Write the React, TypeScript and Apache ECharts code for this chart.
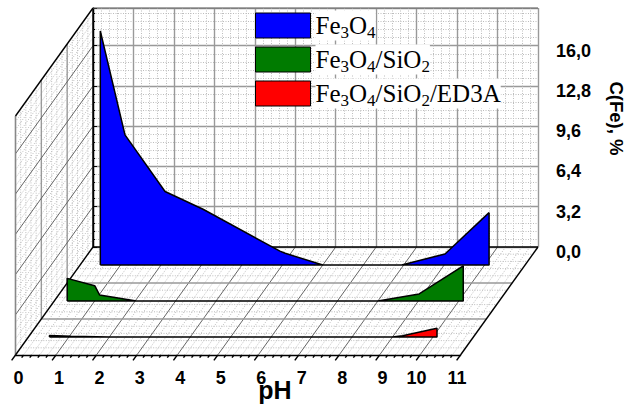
import React, { useEffect, useRef } from "react";
import * as echarts from "echarts";

const phTicks = [0, 1, 2, 3, 4, 5, 6, 7, 8, 9, 10, 11];
const concTickLabels = ["0,0", "3,2", "6,4", "9,6", "12,8", "16,0"];
const concTicks = [0, 3.2, 6.4, 9.6, 12.8, 16];
const concTop = 19;
const depthTicks = [0, 1 / 3, 2 / 3, 1];

const fe3o4: [number, number][] = [[0.5, 18.6], [1.11, 10.35], [2.1, 5.84], [3.04, 4.43], [4.94, 1.1], [5.07, 0.93], [6.0, 0], [7.95, 0], [9.02, 0.88], [10.11, 4.16]];
const fe3o4Sio2: [number, number][] = [[0.32, 1.8], [1.0, 1.22], [1.12, 0.48], [2.03, 0], [8.0, 0], [9.02, 0.56], [10.11, 2.8]];
const fe3o4Sio2Ed3a: [number, number][] = [[0.52, 0.12], [1.05, 0.06], [2.0, 0], [9.0, 0], [9.25, 0.1], [10.1, 0.7]];

const names = ["Fe3O4", "Fe3O4/SiO2", "Fe3O4/SiO2/ED3A"];
const colors = ["#0000ff", "#007b00", "#ff0000"];
const depths = [1 / 6, 1 / 2, 5 / 6];

const LEFT = 93, TOP = 8, W = 445, H = 239, DX = -77.5, DY = 108;

const STYLES = [
  { stroke: "#999999", lineWidth: 1.4 },
  { stroke: "#bdbdbd", lineWidth: 1, lineDash: [1, 1.5] },
  { stroke: "#000000", lineWidth: 1.4 },
  { stroke: "#666666", lineWidth: 1 },
  { stroke: "#888888", lineWidth: 1.6 },
];

function wallRows() {
  const rows: number[][] = [];
  for (let i = 0; i < 55; i++) {
    const x = i / 5;
    if (i % 5) {
      rows.push([x, 0, 0, x, 0, 1, 1]);
      rows.push([x, 0, 1, x, 0, 1.025, 2]);
    }
  }
  for (let i = 1; i < 15; i++) {
    if (i % 5) {
      rows.push([0, 0, i / 15, 11, 0, i / 15, 1]);
      rows.push([0, 0, i / 15, 0, concTop, i / 15, 1]);
    }
  }
  for (let i = 1; i < 30; i++) {
    if (i % 5) rows.push([0, i * 0.64, 0, 0, i * 0.64, 1, 1]);
  }
  phTicks.forEach((x) => {
    if (x > 0 && x < 11) rows.push([x, 0, 0, x, 0, 1, 3]);
    rows.push([x, 0, 1, x, 0, 1.05, 2]);
  });
  depthTicks.forEach((d) => {
    if (d > 0 && d < 1) {
      rows.push([0, 0, d, 11, 0, d, 0]);
      rows.push([0, 0, d, 0, concTop, d, 0]);
    }
  });
  concTicks.forEach((v) => {
    if (v > 0) rows.push([0, v, 0, 0, v, 1, 3]);
  });
  rows.push([0, 0, 1, 0, concTop, 1, 4]);
  rows.push([0, concTop, 0, 0, concTop, 1, 2]);
  rows.push([0, 0, 0, 0, concTop, 0, 2]);
  rows.push([0, 0, 0, 11, 0, 0, 2]);
  rows.push([0, 0, 0, 0, 0, 1, 2]);
  rows.push([11, 0, 0, 11, 0, 1, 2]);
  rows.push([0, concTop, 0, 11, concTop, 0, 3]);
  return rows;
}

const closed = (pts: [number, number][]) => [
  [pts[0][0], 0],
  ...pts,
  [pts[pts.length - 1][0], 0],
  [pts[0][0], 0],
];

const legendName = (n: string) =>
  n.replace(/(\d)(?!A)/g, "{s|$1}").replace(/(^|\})([^{]+)/g, "$1{n|$2}");

export default function App() {
  const ref = useRef<HTMLDivElement>(null);
  useEffect(() => {
    const chart = echarts.init(ref.current!, undefined, { renderer: "svg" });
    const hiddenX = (i: number) => ({ type: "value", gridIndex: i, min: 0, max: 11, show: false });
    const hiddenY = (i: number) => ({ type: "value", gridIndex: i, min: 0, max: concTop, show: false });
    const grids = [0, ...depths, 1].map((d) => ({
      left: LEFT + DX * d,
      top: TOP + DY * d,
      width: W,
      height: H,
      outerBoundsMode: "none",
    }));
    const data = [fe3o4, fe3o4Sio2, fe3o4Sio2Ed3a];
    chart.setOption({
      animation: false,
      backgroundColor: "#fff",
      textStyle: { fontFamily: "Liberation Sans" },
      grid: grids,
      legend: {
        left: 255,
        top: 10,
        padding: 0,
        orient: "vertical",
        itemWidth: 55,
        itemHeight: 25,
        itemGap: 3,
        selectedMode: false,
        data: names.map((n, i) => ({
          name: n,
          icon: "rect",
          itemStyle: { color: colors[i], borderColor: "#000", borderWidth: 1 },
        })),
        formatter: legendName,
        textStyle: {
          backgroundColor: "#fff",
          rich: {
            n: { fontFamily: "Liberation Serif", fontSize: 25, color: "#000", lineHeight: 30 },
            s: { fontFamily: "Liberation Serif", fontSize: 17, color: "#000", lineHeight: 16, padding: [14, 0, 0, 0] },
          },
        },
      },
      xAxis: [
        {
          type: "value", gridIndex: 0, min: 0, max: 11, interval: 1,
          axisLine: { show: false }, axisTick: { show: false }, axisLabel: { show: false },
          splitLine: { show: true, lineStyle: { color: "#999999", width: 1.4 } },
          minorTick: { show: false, splitNumber: 5 },
          minorSplitLine: { show: true, lineStyle: { color: "#bdbdbd", type: [1, 1.5] } },
        },
        hiddenX(1), hiddenX(2), hiddenX(3),
        {
          type: "value", gridIndex: 4, min: 0, max: 11, interval: 1,
          name: "pH", nameLocation: "middle", nameGap: 22, nameMoveOverlap: false,
          nameTextStyle: { fontSize: 25, fontWeight: "bold", color: "#000", padding: [0, 0, 0, 74] },
          axisLine: { show: true, lineStyle: { color: "#000", width: 1.4 } },
          axisTick: { show: false },
          splitLine: { show: false },
          axisLabel: {
            margin: 14, color: "#000",
            formatter: (v: number) => (v >= 10 ? `{b|${v}}` : `{a|${v}}`),
            rich: {
              a: { fontSize: 18, fontWeight: "bold", color: "#000", padding: [0, 0, 0, 6] },
              b: { fontSize: 18, fontWeight: "bold", color: "#000", padding: [0, 7, 0, 0] },
            },
          },
        },
      ],
      yAxis: [
        {
          type: "value", gridIndex: 0, min: 0, max: concTop, interval: 3.2, position: "right",
          name: "C(Fe), %", nameLocation: "middle", nameGap: 69, nameRotate: -90, nameMoveOverlap: false,
          nameTextStyle: { fontSize: 18.5, fontWeight: "bold", color: "#000", padding: [0, 18, 0, 0] },
          axisLine: { show: true, lineStyle: { color: "#000", width: 1.4 } },
          axisTick: { show: true, length: 4, lineStyle: { color: "#000" } },
          minorTick: { show: true, splitNumber: 5, length: 2, lineStyle: { color: "#000" } },
          splitLine: { show: true, lineStyle: { color: "#999999", width: 1.4 } },
          minorSplitLine: { show: true, lineStyle: { color: "#bdbdbd", type: [1, 1.5] } },
          axisLabel: {
            margin: 18, color: "#000",
            rich: { v: { fontSize: 18, fontWeight: "bold", color: "#000", padding: [10, 0, 0, 0] } },
            formatter: (v: number) => {
              const i = concTicks.findIndex((t) => Math.abs(t - v) < 1e-6);
              return i >= 0 ? `{v|${concTickLabels[i]}}` : "";
            },
          },
        },
        hiddenY(1), hiddenY(2), hiddenY(3), hiddenY(4),
      ],
      series: [
        {
          type: "custom",
          xAxisIndex: 0,
          yAxisIndex: 0,
          z: 1,
          silent: true,
          data: wallRows(),
          encode: { x: 0, y: 1 },
          renderItem: (_p: any, api: any) => {
            const a = api.coord([api.value(0), api.value(1)]);
            const b = api.coord([api.value(3), api.value(4)]);
            const d1 = api.value(2), d2 = api.value(5);
            return {
              type: "line",
              shape: { x1: a[0] + DX * d1, y1: a[1] + DY * d1, x2: b[0] + DX * d2, y2: b[1] + DY * d2 },
              style: { fill: null, ...STYLES[api.value(6)] },
            };
          },
        },
        ...data.map((pts, i) => ({
          type: "line",
          name: names[i],
          xAxisIndex: i + 1,
          yAxisIndex: i + 1,
          z: 3 + i,
          showSymbol: false,
          symbol: "none",
          clip: false,
          silent: true,
          data: closed(pts),
          itemStyle: { color: colors[i] },
          lineStyle: { color: "#000", width: 1.5 },
          areaStyle: { color: colors[i], opacity: 1 },
        })),
      ],
    });
    return () => chart.dispose();
  }, []);
  return <div ref={ref} style={{ width: 627, height: 405, position: "fixed", left: 0, top: 0 }} />;
}
